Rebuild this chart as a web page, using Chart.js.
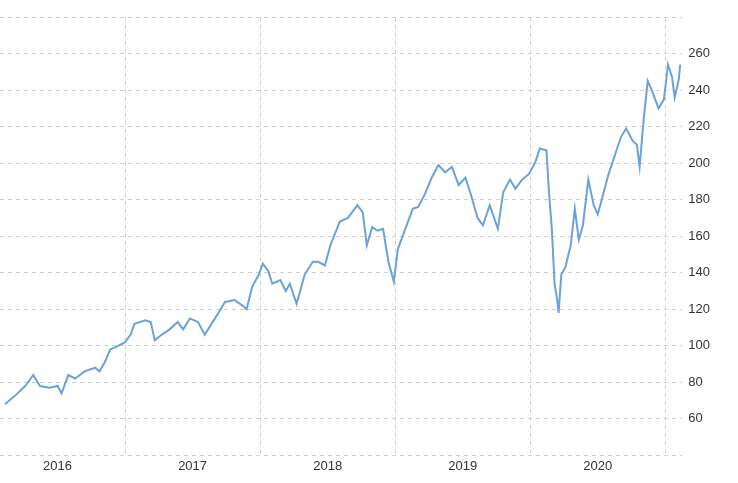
<!DOCTYPE html>
<html><head><meta charset="utf-8">
<script src="https://cdn.jsdelivr.net/npm/chart.js@4/dist/chart.umd.min.js"></script>
<style>html,body{margin:0;background:#fff}#wrap{width:738px;height:483px}</style>
</head><body><div id="wrap"><canvas id="c"></canvas></div>
<script>
// time in decimal years, price values
const times = [2016.11,2016.19,2016.26,2016.32,2016.37,2016.44,2016.50,2016.53,2016.58,2016.63,2016.70,2016.78,2016.81,2016.85,2016.89,2016.95,
  2017.00,2017.04,2017.07,2017.15,2017.19,2017.22,2017.27,2017.33,2017.39,2017.43,2017.48,2017.54,2017.59,2017.64,2017.70,2017.74,2017.81,2017.87,2017.90,2017.94,2017.99,
  2018.02,2018.06,2018.09,2018.15,2018.19,2018.22,2018.27,2018.33,2018.39,2018.43,2018.48,2018.52,2018.59,2018.65,2018.72,2018.76,2018.79,2018.83,2018.87,2018.91,2018.95,2018.99,
  2019.02,2019.07,2019.13,2019.17,2019.22,2019.27,2019.32,2019.37,2019.42,2019.47,2019.52,2019.56,2019.61,2019.65,2019.70,2019.76,2019.80,2019.85,2019.89,2019.94,2019.99,
  2020.04,2020.07,2020.12,2020.14,2020.16,2020.18,2020.20,2020.21,2020.23,2020.26,2020.30,2020.33,2020.36,2020.39,2020.43,2020.47,2020.50,2020.54,2020.58,2020.63,2020.67,2020.71,2020.76,2020.79,2020.81,2020.84,2020.87,2020.90,2020.95,2020.99,
  2021.02,2021.05,2021.07,2021.10,2021.11];
const prices = [68,73,78,84,78,77,78,74,84,82,86,88,86,91,98,100,
  102,106,112,114,113,103,106,109,113,109,115,113,106,112,119,124,125,122,120,132,139,
  145,141,134,136,130,134,123,139,146,146,144,155,168,170,177,173,155,165,163,164,146,135,
  153,163,175,176,183,192,199,195,198,188,192,183,170,166,177,164,184,191,186,191,194,
  201,208,207,183,164,134,125,118,139,143,155,175,158,166,191,177,172,183,194,205,214,219,212,210,198,224,245,240,230,235,
  254,247,236,246,254];
const yearLabels = ['2016','2017','2018','2019','2020'];
const yTicks = [60,80,100,120,140,160,180,200,220,240,260];

new Chart(document.getElementById('c'), {
  type: 'line',
  data: { datasets: [{
    data: times.map((t, i) => ({ x: t, y: prices[i] })),
    borderColor: '#6aa2db', borderWidth: 2, pointRadius: 0, tension: 0, fill: false
  }]},
  options: {
    responsive: true, maintainAspectRatio: false, animation: false,
    layout: { padding: { top: 17, left: 0, right: 22, bottom: 6 } },
    plugins: { legend: { display: false }, tooltip: { enabled: false } },
    scales: {
      x: {
        type: 'linear', min: 2016.074, max: 2021.126,
        afterBuildTicks: ax => { const t = []; for (let v = 2016.5; v <= 2021; v += 0.5) t.push({ value: v }); ax.ticks = t; },
        ticks: { autoSkip: false, maxRotation: 0, color: '#333', font: { family: 'Arial, Liberation Sans', size: 13 },
          callback: v => (Math.abs(v % 1 - 0.5) < 0.01 && yearLabels.includes(String(Math.floor(v)))) ? String(Math.floor(v)) : '' },
        grid: { color: ctx => (ctx.tick && Math.abs(ctx.tick.value % 1) < 0.01) ? '#d0d0d0' : 'transparent', drawTicks: false },
        border: { display: false, dash: [4, 4] }
      },
      y: {
        position: 'right', min: 40, max: 280,
        afterBuildTicks: ax => { const t = []; for (let v = 40; v <= 280; v += 20) t.push({ value: v }); ax.ticks = t; },
        ticks: { color: '#333', padding: 6, font: { family: 'Arial, Liberation Sans', size: 13 },
          callback: v => yTicks.includes(v) ? String(v) : '' },
        grid: { color: '#d0d0d0', drawTicks: false },
        border: { display: false, dash: [4, 4] }
      }
    }
  }
});
</script></body></html>
